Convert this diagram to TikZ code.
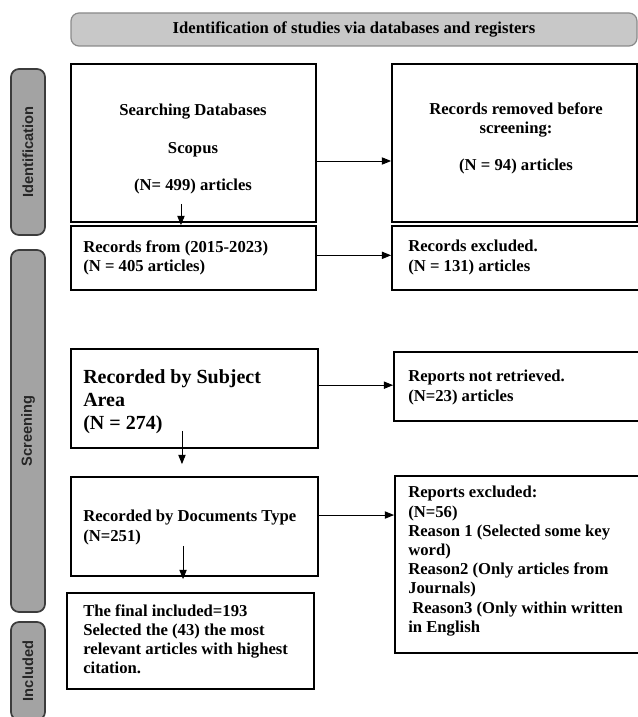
\documentclass[tikz,border=0pt]{standalone}
\usepackage{fontspec}
\setmainfont{Liberation Serif}
\setsansfont{Liberation Sans}
\usetikzlibrary{arrows.meta}
\definecolor{bannerfill}{HTML}{C8C8C8}
\definecolor{bannerdraw}{HTML}{8A8A8A}
\definecolor{phasefill}{HTML}{A3A3A3}
\definecolor{phasedraw}{HTML}{3C3C3C}
\begin{document}
\begin{tikzpicture}[x=0.75pt,y=-0.75pt,
  box/.style={draw=black,line width=1.35pt,inner sep=0pt,rectangle},
  phase/.style={draw=phasedraw,fill=phasefill,line width=1.3pt,rounded corners=6pt,inner sep=0pt,
    minimum width=25.5pt},
  phasetxt/.style={rotate=90,font=\sffamily\bfseries\fontsize{11}{13}\selectfont,text=black!85},
  banner/.style={draw=bannerdraw,fill=bannerfill,line width=0.9pt,rounded corners=6pt,inner sep=0pt,
    font=\bfseries\fontsize{12.5}{14}\selectfont},
  txt/.style={inner sep=0pt,align=left,font=\bfseries\fontsize{12.5}{14.4}\selectfont},
  bigtxt/.style={inner sep=0pt,align=left,font=\bfseries\fontsize{15}{17.3}\selectfont},
  arr/.style={line width=0.7pt,-{Triangle[length=7pt,width=5.5pt]}}]
\useasboundingbox (0,0) rectangle (638,717);
\begin{scope}
\clip (0,0) rectangle (638,717);
% banner
\node[banner,minimum width=424.5pt,minimum height=24.75pt] (ban) at (354,29.5)
  {Identification of studies via databases and registers};
% phase labels
\node[phase,minimum height=124.5pt] (pid) at (28,152) {};
\node[phasetxt] (pidt) at (pid.center) {Identification};
\node[phase,minimum height=271.5pt] (psc) at (28,431) {};
\node[phasetxt] (psct) at (psc.center) {Screening};
\node[phase,minimum height=73.5pt] (pin) at (28,671) {};
\node[phasetxt] (pint) at (pin.center) {Included};
% boxes
\node[box,minimum width=183.75pt,minimum height=118.5pt] (b1) at (193.5,143) {};
\node[box,minimum width=183.75pt,minimum height=48pt] (b2) at (193.5,258) {};
\node[box,minimum width=183.75pt,minimum height=118.5pt] (r1) at (514.5,143) {};
\node[box,minimum width=189.75pt,minimum height=48pt] (r2) at (518.5,258) {};
\node[box,minimum width=185.25pt,minimum height=74.25pt] (b3) at (194.5,398.5) {};
\node[box,minimum width=188.25pt,minimum height=51.75pt] (r3) at (519.5,386.5) {};
\node[box,minimum width=185.25pt,minimum height=74.25pt] (b4) at (194.5,526.5) {};
\node[box,minimum width=187.5pt,minimum height=132.75pt] (r4) at (520,564.5) {};
\node[box,minimum width=185.25pt,minimum height=72pt] (fin) at (190.5,641) {};
% texts
\node[txt,align=center] (t1) at (193,149) {Searching Databases\\[13.5pt]Scopus\\[13.5pt](N= 499) articles};
\node[txt,align=center,anchor=north] (tr1) at (516,102) {Records removed before\\screening:\\[13.5pt](N = 94) articles};
\node[txt,anchor=north west] (t2) at (83,240) {Records from (2015-2023)\\(N = 405 articles)};
\node[txt,anchor=north west] (tr2) at (408,240) {Records excluded.\\(N = 131) articles};
\node[bigtxt,anchor=north west] (t3) at (83,369) {Recorded by Subject\\Area\\(N = 274)};
\node[txt,anchor=north west] (tr3) at (408,370) {Reports not retrieved.\\(N=23) articles};
\node[txt,anchor=north west] (t4) at (83,510) {Recorded by Documents Type\\(N=251)};
\node[txt,anchor=north west] (tr4) at (408,486) {Reports excluded:\\(N=56)\\Reason 1 (Selected some key\\word)\\Reason2 (Only articles from\\Journals)\\\hspace{3pt}Reason3 (Only within written\\in English};
\node[txt,anchor=north west] (tf) at (83,604) {The final included=193\\Selected the (43) the most\\relevant articles with highest\\citation.};
% connectors
\draw[arr] ([yshift=-13.5pt]b1.east) -- ([yshift=-13.5pt]r1.west);
\draw[arr] ([yshift=2pt]b2.east) -- ([yshift=2pt]b2.east -| r2.west);
\draw[arr] ([yshift=10pt]b3.east) -- ([yshift=10pt]b3.east -| r3.west);
\draw[arr] ([yshift=8.6pt]b4.east) -- ([yshift=8.6pt]b4.east -| r4.west);
\coordinate (a1) at ([xshift=-9.4pt,yshift=14.25pt]b1.south);
\draw[arr] (a1) -- (a1 |- b2.north);
\coordinate (a2) at ([xshift=-9.4pt,yshift=13.5pt]b3.south);
\draw[arr] (a2) -- ([yshift=9pt]a2 |- b4.north);
\coordinate (a3) at ([xshift=-8.6pt,yshift=23.25pt]b4.south);
\draw[arr] (a3) -- ([yshift=9.75pt]a3 |- fin.north);
\end{scope}
\end{tikzpicture}
\end{document}
